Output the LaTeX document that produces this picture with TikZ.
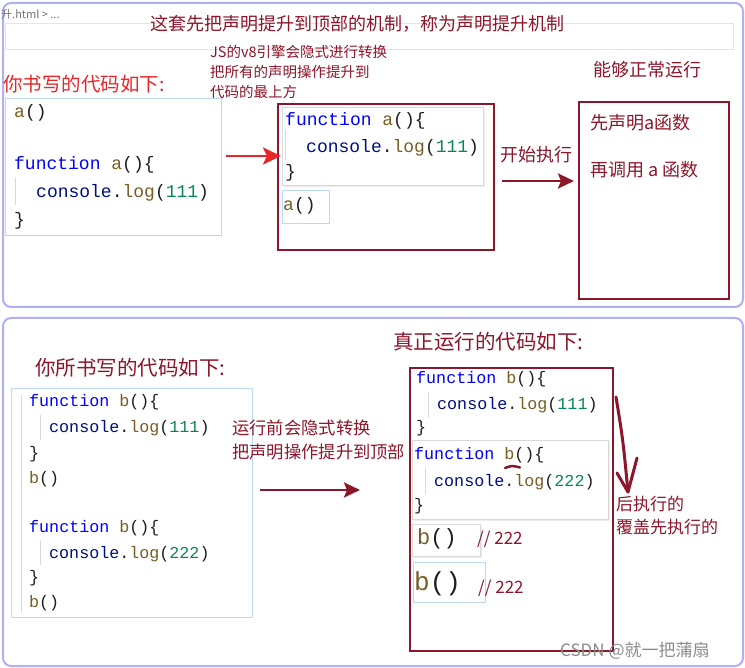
\documentclass[tikz,border=0pt]{standalone}
\usepackage{fontspec}
\setmainfont{Noto Sans CJK SC}
\setmonofont{Liberation Mono}
\usetikzlibrary{arrows.meta,shadows}
\definecolor{dred}{RGB}{140,22,42}
\definecolor{bred}{RGB}{232,38,42}
\definecolor{lav}{RGB}{175,175,250}
\definecolor{cbblue}{RGB}{190,215,245}
\definecolor{jsblue}{RGB}{0,0,255}
\definecolor{jsfn}{RGB}{121,94,38}
\definecolor{jsvar}{RGB}{0,16,128}
\definecolor{jsnum}{RGB}{9,134,88}
\definecolor{jsblk}{RGB}{30,30,30}
\newcommand{\jkw}[1]{\textcolor{jsblue}{#1}}
\newcommand{\jfn}[1]{\textcolor{jsfn}{#1}}
\newcommand{\jvar}[1]{\textcolor{jsvar}{#1}}
\newcommand{\jnum}[1]{\textcolor{jsnum}{#1}}
\begin{document}
\begin{tikzpicture}[x=1pt,y=-1pt,
  panel/.style={draw=lav, line width=2pt, rounded corners=8pt, fill=white, inner sep=0, anchor=north west},
  codebox/.style={draw=cbblue, line width=1.2pt, fill=white, inner sep=0, anchor=north west},
  graybox/.style={draw=black!15, line width=1pt, fill=white, inner sep=0, anchor=north west,
     drop shadow={opacity=0.15, shadow xshift=1pt, shadow yshift=-1.2pt}},
  redbox/.style={draw=dred, line width=2pt, inner sep=0, anchor=north west},
  txt/.style={inner sep=0, anchor=base west},
  code/.style={txt, text=jsblk, font=\ttfamily\fontsize{18}{18}\selectfont},
  codes/.style={txt, text=jsblk, font=\ttfamily\fontsize{16.7}{16.7}\selectfont},
  guide/.style={draw=black!15, line width=1pt},
  darrow/.style={draw=dred, line width=2.6pt, -{Stealth[length=16pt,width=15pt,inset=3pt]}},
  rarrow/.style={draw=bred, line width=2.6pt, -{Stealth[length=18pt,width=17pt,inset=4pt]}}
]
\useasboundingbox (0,0) rectangle (745,668);
\fill[white] (0,0) rectangle (745,668);

% ---------- top panel ----------
\node[panel, minimum width=740pt, minimum height=304pt] (top) at (2,2) {};
\node[draw=black!10, line width=0.8pt, inner sep=0, anchor=north west,
      minimum width=728pt, minimum height=26pt] (bar) at (5,23) {};
\node[txt, text=black!55, font=\fontsize{11}{11}\selectfont] (crumb) at (1,19) {升.html \textgreater{} ...};
\node[txt, text=dred, font=\fontsize{18}{18}\selectfont] (title) at (150,31)
  {这套先把声明提升到顶部的机制，称为声明提升机制};

\node[txt, text=dred, font=\fontsize{14.5}{14.5}\selectfont] (js1) at (210,57.5) {JS的v8引擎会隐式进行转换};
\node[txt, text=dred, font=\fontsize{14.5}{14.5}\selectfont] (js2) at (210,77.5) {把所有的声明操作提升到};
\node[txt, text=dred, font=\fontsize{14.5}{14.5}\selectfont] (js3) at (210,97.5) {代码的最上方};

\node[txt, text=bred, font=\fontsize{19.5}{19.5}\selectfont] (writeA) at (3,91.4) {你书写的代码如下:};

% left code
\node[codebox, minimum width=216pt, minimum height=137pt] (codeA) at (5,98) {};
\draw[guide] (15,178) -- (15,205);
\node[code] (a1) at (14,117.4) {\jfn{a}()};
\node[code] (a2) at (14,169.4) {\jkw{function} \jfn{a}()\{};
\node[code] (a3) at (36,197.4) {\jvar{console}.\jfn{log}(\jnum{111})};
\node[code] (a4) at (14,225.4) {\}};

% hoisted code
\node[graybox, minimum width=201pt, minimum height=78pt] (codeB) at (282,107) {};
\draw[guide] (285,130) -- (285,160);
\node[code] (b1) at (285,125.4) {\jkw{function} \jfn{a}()\{};
\node[code] (b2) at (306,152.4) {\jvar{console}.\jfn{log}(\jnum{111})};
\node[code] (b3) at (285,177.4) {\}};
\node[codebox, minimum width=47pt, minimum height=33pt] (callB) at (282,190) {};
\node[code] (b4) at (283,210.4) {\jfn{a}()};
\node[redbox, minimum width=216pt, minimum height=146pt] (boxB) at (277,103) {};

\coordinate (r1s) at (226,156);
\coordinate (r1e) at (281,156);
\draw[rarrow] (r1s) -- (r1e);

\node[txt, text=dred, font=\fontsize{18}{18}\selectfont] (start) at (500,161.8) {开始执行};
\coordinate (d1s) at (502,181);
\coordinate (d1e) at (574,181);
\draw[darrow] (d1s) -- (d1e);

\node[txt, text=dred, font=\fontsize{18}{18}\selectfont] (ok) at (593,76.8) {能够正常运行};
\node[redbox, minimum width=150pt, minimum height=197pt] (boxC) at (578,101) {};
\node[txt, text=dred, font=\fontsize{18}{18}\selectfont] (c1) at (590,129.8) {先声明a函数};
\node[txt, text=dred, font=\fontsize{18}{18}\selectfont] (c2) at (590,176.8) {再调用 a 函数};

% ---------- bottom panel ----------
\node[panel, minimum width=740pt, minimum height=348pt] (bot) at (2,317) {};
\node[txt, text=dred, font=\fontsize{20.5}{20.5}\selectfont] (writeB) at (35,375.8) {你所书写的代码如下:};
\node[txt, text=dred, font=\fontsize{20.5}{20.5}\selectfont] (realB) at (393,349.8) {真正运行的代码如下:};

\node[codebox, minimum width=241pt, minimum height=229pt] (codeD) at (11,388) {};
\draw[guide] (21,395) -- (21,613);
\draw[guide] (40,415) -- (40,440);
\draw[guide] (40,540) -- (40,565);
\node[codes] (d1) at (29,407) {\jkw{function} \jfn{b}()\{};
\node[codes] (d2) at (49,433) {\jvar{console}.\jfn{log}(\jnum{111})};
\node[codes] (d3) at (29,458) {\}};
\node[codes] (d4) at (29,483) {\jfn{b}()};
\node[codes] (d5) at (29,532) {\jkw{function} \jfn{b}()\{};
\node[codes] (d6) at (49,558) {\jvar{console}.\jfn{log}(\jnum{222})};
\node[codes] (d7) at (29,582) {\}};
\node[codes] (d8) at (29,607) {\jfn{b}()};

\node[txt, text=dred, font=\fontsize{17.3}{17.3}\selectfont] (pre1) at (232,434.6) {运行前会隐式转换};
\node[txt, text=dred, font=\fontsize{17.3}{17.3}\selectfont] (pre2) at (232,458.6) {把声明操作提升到顶部};

\coordinate (d2s) at (260,490);
\coordinate (d2e) at (360,490);
\draw[darrow] (d2s) -- (d2e);

% real code
\draw[guide] (428,392) -- (428,418);
\node[codes] (e1) at (416,384) {\jkw{function} \jfn{b}()\{};
\node[codes] (e2) at (437,410) {\jvar{console}.\jfn{log}(\jnum{111})};
\node[codes] (e3) at (416,433) {\}};
\node[graybox, minimum width=196pt, minimum height=79pt] (codeE) at (412,440) {};
\draw[guide] (425,468) -- (425,494);
\node[codes] (f1) at (414,460) {\jkw{function} \jfn{b}()\{};
\node[codes] (f2) at (434,486) {\jvar{console}.\jfn{log}(\jnum{222})};
\node[codes] (f3) at (414,511) {\}};
\draw[dred, line width=2.5pt, line cap=round] (505,468) .. controls (512,465.5) .. (520,467.5);

\node[graybox, minimum width=68pt, minimum height=32pt] (callE1) at (412,524) {};
\node[txt, text=jsblk, font=\ttfamily\fontsize{22}{22}\selectfont] (g1) at (417,544.6) {\jfn{b}()};
\node[txt, text=dred, font=\fontsize{17}{17}\selectfont] (g1c) at (477,544.5) {// 222};
\node[codebox, minimum width=72pt, minimum height=40pt] (callE2) at (413,562) {};
\node[txt, text=jsblk, font=\ttfamily\fontsize{26}{26}\selectfont] (g2) at (414,590) {\jfn{b}()};
\node[txt, text=dred, font=\fontsize{17}{17}\selectfont] (g2c) at (478,593.5) {// 222};

\node[redbox, minimum width=203pt, minimum height=283pt] (boxE) at (409,367) {};

% hand-drawn arrow
\coordinate (h1) at (616,397);
\coordinate (h2) at (628,492);
\coordinate (h3) at (617,473);
\coordinate (h4) at (637,458);
\draw[dred, line width=3pt, line cap=round, line join=round] (h1) .. controls (623,440) .. (h2);
\draw[dred, line width=3pt, line cap=round, line join=round] (h3) -- (h2) -- (h4);

\node[txt, text=dred, font=\fontsize{17}{17}\selectfont] (later1) at (616,510.5) {后执行的};
\node[txt, text=dred, font=\fontsize{17}{17}\selectfont] (later2) at (616,533.5) {覆盖先执行的};

\node[txt, text=black!45, font=\fontsize{17}{17}\selectfont] (wm) at (560,656.5) {CSDN @就一把蒲扇};
\end{tikzpicture}
\end{document}
